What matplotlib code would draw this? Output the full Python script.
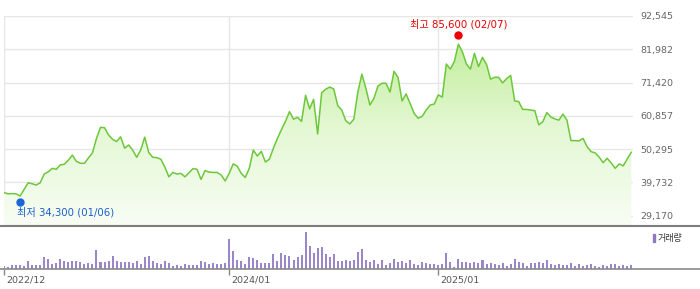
import numpy as np
import pandas as pd
import matplotlib
matplotlib.use('Agg')
import matplotlib.pyplot as plt
import matplotlib.dates as mdates
from matplotlib.colors import LinearSegmentedColormap
from matplotlib.patches import Rectangle
from matplotlib.lines import Line2D
from matplotlib.transforms import offset_copy, ScaledTranslation

plt.rcParams['font.family'] = ['DejaVu Sans', 'Noto Sans CJK KR']

# 주간 종가 / 거래량 (2022/12/09 부터)
start_date = '2022-12-09'
close = [
    36500, 36100, 36200, 36100, 35400, 37500, 39600, 39300, 38900, 39600,
    42400, 43100, 44200, 43900, 45300, 45500, 46800, 48400, 46400, 45800,
    45800, 47500, 49100, 53700, 57200, 57100, 54800, 53400, 52700, 54200,
    50600, 51600, 50000, 47700, 50000, 54100, 49200, 47700, 47600, 47100,
    44600, 41500, 42900, 42400, 42600, 41500, 42800, 44100, 43900, 40700,
    43500, 43000, 42900, 42900, 42100, 40200, 42600, 45600, 44900, 42600,
    41300, 44200, 50000, 48100, 49600, 46200, 47100, 50600, 53700, 56500,
    59100, 62200, 59800, 60400, 59100, 67400, 63100, 66100, 55100, 68200,
    69300, 70000, 69400, 64100, 62700, 59300, 58300, 59800, 68400, 74100,
    69600, 64300, 66400, 70300, 71200, 71200, 68400, 75000, 73000, 65600,
    67800, 64800, 61600, 60100, 60700, 62700, 64300, 64600, 67500, 66800,
    77300, 75700, 78100, 83600, 81200, 77300, 75700, 80700, 76500, 79400,
    77200, 72500, 73100, 73100, 71300, 72700, 73700, 65600, 65400, 62900,
    62900, 62700, 62500, 58000, 59000, 61900, 60500, 59900, 59500, 61400,
    59500, 53000, 53000, 52900, 53700, 51100, 49500, 49100, 47800, 46000,
    47400, 45900, 44200, 45600, 45000, 47200, 49300,
]
volume = [
    8, 5, 11, 11, 11, 8, 23, 11, 11, 11,
    35, 29, 14, 17, 29, 23, 20, 23, 23, 20,
    14, 17, 14, 56, 20, 20, 23, 38, 23, 20,
    20, 20, 17, 23, 14, 35, 38, 23, 17, 14,
    23, 17, 8, 11, 8, 14, 11, 11, 11, 23,
    20, 14, 17, 14, 14, 17, 89, 53, 26, 23,
    14, 35, 32, 26, 17, 17, 17, 44, 23, 47,
    41, 38, 26, 35, 41, 110, 68, 47, 62, 65,
    44, 35, 44, 23, 23, 26, 23, 26, 50, 59,
    26, 20, 26, 14, 26, 11, 17, 29, 20, 23,
    17, 26, 14, 11, 20, 17, 14, 14, 11, 14,
    47, 20, 5, 29, 20, 20, 17, 20, 17, 26,
    14, 17, 14, 11, 17, 8, 14, 29, 20, 17,
    8, 17, 17, 20, 17, 26, 14, 11, 14, 11,
    11, 17, 8, 14, 8, 11, 14, 8, 5, 11,
    8, 14, 14, 8, 11, 8, 11,
]
y_ticks = [29170, 39732, 50295, 60857, 71420, 81982, 92545]
x_labels = ['2022/12', '2024/01', '2025/01']

low_date, low_value = '2023-01-06', 34300
high_date, high_value = '2025-02-07', 85600
low_text = '최저 34,300 (01/06)'
high_text = '최고 85,600 (02/07)'

dates = pd.date_range(start_date, periods=len(close), freq='7D')
tick_dates = [dates[dates.strftime('%Y/%m') == lab][0] for lab in x_labels]

W, H = 700, 289
fig = plt.figure(figsize=(W / 100, H / 100), dpi=100)


def rect(x0, y0, x1, y1):
    return [x0 / W, 1 - y1 / H, (x1 - x0) / W, (y1 - y0) / H]


ax = fig.add_axes(rect(4, 16, 633, 226))
axv = fig.add_axes(rect(4, 226, 633, 268.7))

xmin = dates[0]
xmax = dates[-1] + pd.Timedelta(days=3)
ymin, ymax = 25900, 92545

# 가격 영역 (그라데이션 채우기)
ax.plot(dates, close, color='#6cc83a', lw=1.1, zorder=4)
fill = ax.fill_between(dates, close, ymin, color='none', lw=0)
grad = np.linspace(0, 1, 256).reshape(-1, 1)
cmap = LinearSegmentedColormap.from_list('g', ['#f8fdf4', '#e4f8d4', '#bdec94'])
im = ax.imshow(grad, cmap=cmap, aspect='auto', origin='lower', zorder=2,
               extent=[mdates.date2num(xmin), mdates.date2num(xmax), ymin, 88000])
im.set_clip_path(fill.get_paths()[0], transform=ax.transData)

ax.set_xlim(xmin, xmax)
ax.set_ylim(ymin, ymax)
ax.set_yticks(y_ticks)
ax.set_yticklabels([f'{v:,}' for v in y_ticks])
ax.set_xticks(tick_dates)
ax.yaxis.tick_right()
ax.tick_params(axis='y', length=0, pad=5, labelsize=6.8, labelcolor='#666666')
ax.tick_params(axis='x', length=0, labelbottom=False)
ax.grid(color='#e6e6e6', lw=1, zorder=0)
for s in ax.spines.values():
    s.set_visible(False)

# 최고 / 최저 표시
lo = mdates.date2num(pd.Timestamp(low_date))
hi = mdates.date2num(pd.Timestamp(high_date))
ax.plot(lo, low_value, 'o', color='#1a66d8', ms=5, clip_on=False, zorder=5,
        transform=offset_copy(ax.transData, fig=fig, x=0, y=-2, units='points'))
ax.plot(hi, high_value, 'o', color='#ee0000', ms=5, clip_on=False, zorder=5,
        transform=offset_copy(ax.transData, fig=fig, x=0, y=2, units='points'))
ax.annotate(low_text, xy=(lo, low_value), xytext=(-2, -9), textcoords='offset points',
            ha='left', va='center', fontsize=7.3, color='#1a5fcc')
ax.annotate(high_text, xy=(hi, high_value), xytext=(0, 10), textcoords='offset points',
            ha='center', va='center', fontsize=7.3, color='#e60000')

# 거래량
axv.bar(dates, volume, width=3.5, color='#9b86c9', zorder=3)
axv.set_xlim(xmin, xmax)
axv.set_ylim(0, 128)
axv.set_yticks([])
axv.set_xticks(tick_dates)
axv.set_xticklabels(x_labels)
axv.tick_params(axis='x', direction='out', length=4, width=1, color='#888888',
                labelsize=6.8, labelcolor='#555555', pad=1)
shift = ScaledTranslation(2 / 100, 0, fig.dpi_scale_trans)
for lbl in axv.get_xticklabels():
    lbl.set_ha('left')
    lbl.set_transform(lbl.get_transform() + shift)
for s in axv.spines.values():
    s.set_visible(False)

# 구분선, 범례
fig.add_artist(Line2D([0, 1], [1 - 226 / H] * 2, color='#7d7d7d', lw=1.5))
fig.add_artist(Line2D([0, 1], [1 - 268.7 / H] * 2, color='#8a8a8a', lw=1.2))
fig.add_artist(Rectangle((652.5 / W, 1 - 242 / H), 2.5 / W, 8 / H,
                         transform=fig.transFigure, color='#8e78c2'))
fig.text(658 / W, 1 - 238 / H, '거래량', fontsize=6.5, color='#333333', va='center')

fig.savefig('out.png', dpi=100)
